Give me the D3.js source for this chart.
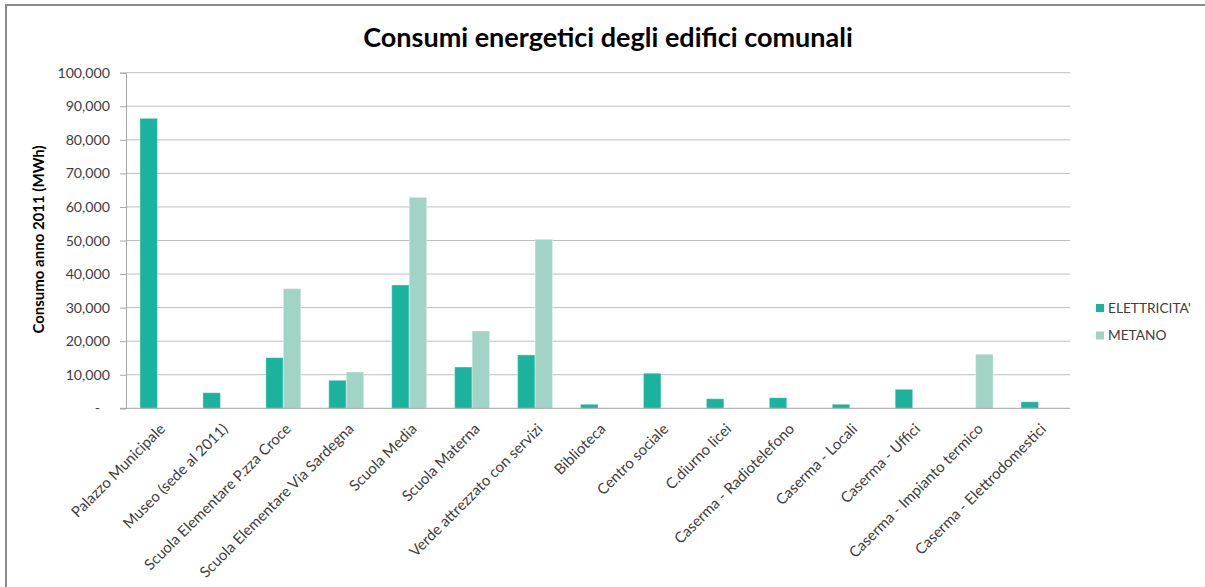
<!DOCTYPE html>
<html>
<head>
<meta charset="utf-8">
<script src="https://cdn.jsdelivr.net/npm/d3@7"></script>
<style>
  html, body { margin: 0; padding: 0; background: #fff; }
  svg { display: block; font-family: Lato, "Open Sans", sans-serif; }
</style>
</head>
<body>
<svg id="chart" width="1205" height="587"></svg>
<script>
// Building list (x axis)
const categories = [
  "Palazzo Municipale",
  "Museo (sede al 2011)",
  "Scuola Elementare P.zza Croce",
  "Scuola Elementare Via Sardegna",
  "Scuola Media",
  "Scuola Materna",
  "Verde attrezzato con servizi",
  "Biblioteca",
  "Centro sociale",
  "C.diurno licei",
  "Caserma - Radiotelefono",
  "Caserma - Locali",
  "Caserma - Uffici",
  "Caserma - Impianto termico",
  "Caserma - Elettrodomestici"
];

// 2011 consumption (MWh); null = no supply of that kind
const elettricita = [86400, 4650, 15100, 8350, 36750, 12300, 15900, 1200, 10450, 2850, 3150, 1200, 5650, null, 1950];
const metano      = [null, null, 35650, 10800, 62850, 23050, 50350, null, null, null, null, null, null, 16100, null];

const seriesNames = ["ELETTRICITA'", "METANO"];
const seriesColors = ["#1bb39e", "#a2d3c7"];
const yTicks = [0, 10000, 20000, 30000, 40000, 50000, 60000, 70000, 80000, 90000, 100000];

const svg = d3.select("#chart");

// chart frame
svg.append("rect")
  .attr("x", 6).attr("y", 5)
  .attr("width", 1220).attr("height", 600)
  .attr("fill", "none").attr("stroke", "#8c8c8c").attr("stroke-width", 2);

const plot = { left: 126, right: 1070, top: 72.7, bottom: 408.3 };

const x0 = d3.scaleBand().domain(categories).range([plot.left, plot.right]).padding(0);
const x1 = d3.scaleBand().domain(seriesNames).range([0, x0.bandwidth()]).paddingInner(0).paddingOuter(0.8);
const y = d3.scaleLinear().domain([0, 100000]).range([plot.bottom, plot.top]);

// gridlines
svg.append("g")
  .selectAll("line").data(yTicks.filter(d => d > 0)).join("line")
  .attr("x1", plot.left).attr("x2", plot.right)
  .attr("y1", d => y(d)).attr("y2", d => y(d))
  .attr("stroke", "#bfbfbf").attr("stroke-width", 1);

// y axis
const fmt = d3.format(",");
const yAxis = d3.axisLeft(y).tickValues(yTicks).tickSize(6).tickPadding(10)
  .tickFormat(d => d === 0 ? "-" : fmt(d));
const gy = svg.append("g").attr("transform", `translate(${plot.left},0)`).call(yAxis);
gy.select(".domain").attr("stroke", "#a6a6a6");
gy.selectAll(".tick line").attr("stroke", "#a6a6a6");
gy.selectAll(".tick text")
  .attr("fill", "#404040").attr("font-size", 14.2).attr("font-family", "Lato, sans-serif");
gy.selectAll(".tick text").filter(d => d === 0).attr("dx", -10);

// bars
const rows = categories.map((c, i) => ({ cat: c, values: [elettricita[i], metano[i]] }));
svg.append("g").selectAll("g").data(rows).join("g")
  .attr("transform", d => `translate(${x0(d.cat)},0)`)
  .selectAll("rect")
  .data(d => d.values.map((v, k) => ({ key: seriesNames[k], v, k })).filter(e => e.v != null))
  .join("rect")
  .attr("x", d => x1(d.key))
  .attr("width", x1.bandwidth())
  .attr("y", d => y(d.v))
  .attr("height", d => y(0) - y(d.v))
  .attr("fill", d => seriesColors[d.k])
  .attr("stroke", "#ffffff").attr("stroke-opacity", 0.35).attr("stroke-width", 1);

// x axis line
svg.append("line")
  .attr("x1", plot.left - 6).attr("x2", plot.right)
  .attr("y1", plot.bottom).attr("y2", plot.bottom)
  .attr("stroke", "#a6a6a6");

// x labels, rotated
svg.append("g").selectAll("text").data(categories).join("text")
  .attr("transform", d => `translate(${x0(d) + x0.bandwidth() / 2 + 1},${plot.bottom + 14}) rotate(-45)`)
  .attr("text-anchor", "end")
  .attr("dy", "0.71em")
  .attr("font-size", 15)
  .attr("fill", "#404040")
  .text(d => d);

// y axis title
svg.append("text")
  .attr("transform", `translate(44,${(plot.top + plot.bottom) / 2 - 1}) rotate(-90)`)
  .attr("text-anchor", "middle")
  .attr("font-size", 15).attr("font-weight", "bold").attr("fill", "#000")
  .text("Consumo anno 2011 (MWh)");

// title
svg.append("text")
  .attr("x", 608).attr("y", 47)
  .attr("text-anchor", "middle")
  .attr("font-size", 27).attr("font-weight", "bold").attr("fill", "#000")
  .text("Consumi energetici degli edifici comunali");

// legend
const lg = svg.append("g").attr("transform", "translate(1096,308)");
const items = lg.selectAll("g").data(seriesNames).join("g")
  .attr("transform", (d, i) => `translate(0,${i * 27.5})`);
items.append("rect").attr("x", 0).attr("y", -4).attr("width", 8).attr("height", 8)
  .attr("fill", (d, i) => seriesColors[i]);
items.append("text").attr("x", 12).attr("dy", "0.35em")
  .attr("font-size", 13.7).attr("fill", "#404040").text(d => d);
</script>
</body>
</html>
